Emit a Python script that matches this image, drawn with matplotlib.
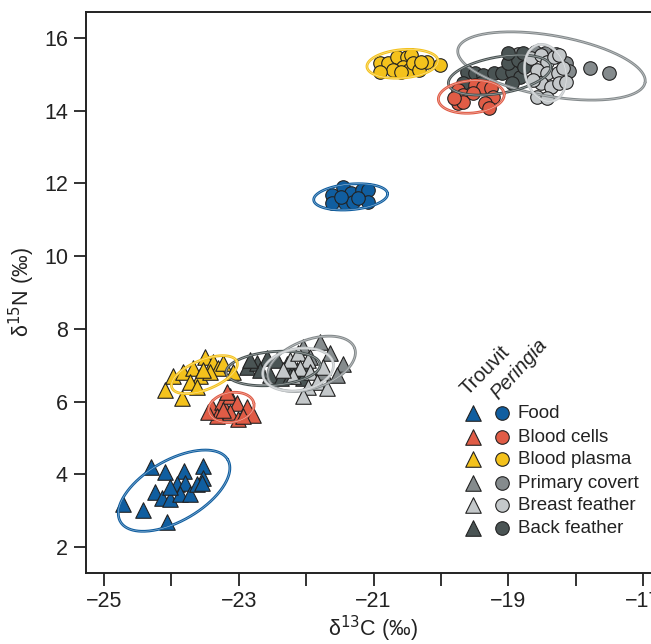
import numpy as np
import matplotlib
matplotlib.use("Agg")
import matplotlib.pyplot as plt

plt.rcParams['font.family'] = ['Liberation Sans', 'DejaVu Sans']

tissues = ["Food", "Blood cells", "Blood plasma", "Primary covert", "Breast feather", "Back feather"]
colors = ["#105ea0", "#e05c46", "#f4c21c", "#858b8d", "#c4c8ca", "#4a5454"]

# ---- Trouvit (triangles) ----
tr_food_x = [-24.30, -24.09, -23.81, -23.53, -23.53, -24.72, -24.42, -24.06, -24.24, -24.14,
             -24.02, -23.92, -23.80, -23.87, -23.72, -23.62, -23.54, -24.02]
tr_food_y = [4.21, 4.05, 4.08, 4.24, 3.91, 3.17, 3.03, 2.70, 3.50, 3.36,
             3.31, 3.72, 3.77, 3.45, 3.45, 3.72, 3.77, 3.66]
tr_cells_x = [-23.40, -23.25, -23.13, -23.02, -22.88, -22.79, -23.32, -23.13, -23.01, -23.23, -23.45, -22.93, -23.17]
tr_cells_y = [5.86, 6.00, 6.14, 5.97, 5.84, 5.64, 5.59, 5.70, 5.51, 5.78, 5.70, 5.59, 6.25]
tr_plasma_x = [-24.09, -23.84, -23.97, -23.83, -23.68, -23.50, -23.38, -23.31, -23.23, -23.57,
               -23.72, -23.42, -23.08, -23.62, -23.53]
tr_plasma_y = [6.33, 6.11, 6.69, 6.82, 6.93, 7.24, 7.10, 6.93, 7.07, 6.69,
               6.55, 6.80, 6.82, 6.41, 6.88]
tr_primary_x = [-21.79, -21.64, -21.46, -22.04, -21.75, -21.94, -21.54]
tr_primary_y = [7.65, 7.35, 7.02, 7.51, 6.80, 7.24, 6.74]
tr_breast_x = [-22.24, -22.12, -21.98, -22.09, -21.94, -22.19, -22.34, -21.75, -21.84, -21.98, -22.04, -21.69]
tr_breast_y = [7.15, 7.35, 7.15, 6.93, 6.80, 6.69, 6.88, 6.96, 6.55, 6.41, 6.14, 6.38]
tr_back_x = [-22.88, -22.73, -22.58, -22.43, -22.28, -22.13, -21.98, -22.53, -22.38, -22.68, -22.24, -22.04, -22.83]
tr_back_y = [6.96, 7.07, 7.21, 7.15, 7.02, 6.88, 6.93, 6.74, 6.66, 6.88, 6.69, 6.66, 7.15]

# ---- Peringia (circles) ----
pe_food_x = [-21.61, -21.46, -21.34, -21.17, -21.08, -21.61, -21.42, -21.30, -21.08, -21.49, -21.23]
pe_food_y = [11.69, 11.91, 11.74, 11.82, 11.82, 11.47, 11.47, 11.49, 11.49, 11.63, 11.60]
pe_cells_x = [-19.75, -19.67, -19.49, -19.37, -19.26, -19.23, -19.34, -19.75, -19.67, -19.52, -19.81, -19.29]
pe_cells_y = [14.57, 14.43, 14.71, 14.65, 14.63, 14.38, 14.21, 14.21, 14.24, 14.49, 14.35, 14.08]
pe_plasma_x = [-20.90, -20.78, -20.65, -20.50, -20.45, -20.56, -20.48, -20.41, -20.33, -20.20,
               -20.01, -20.71, -20.90, -20.60, -20.30]
pe_plasma_y = [15.31, 15.31, 15.48, 15.48, 15.53, 15.20, 15.12, 15.31, 15.12, 15.34,
               15.26, 15.12, 15.07, 15.07, 15.34]
pe_primary_x = [-18.85, -18.60, -18.30, -18.15, -18.90, -18.20, -18.70, -17.79, -17.51, -18.45, -18.10]
pe_primary_y = [15.55, 15.62, 15.55, 15.30, 15.35, 14.95, 15.40, 15.18, 15.04, 15.60, 15.10]
pe_breast_x = [-18.67, -18.52, -18.42, -18.33, -18.25, -18.57, -18.42, -18.27, -18.19, -18.52,
               -18.37, -18.25, -18.57, -18.42, -18.15, -18.63]
pe_breast_y = [15.45, 15.53, 15.34, 15.48, 15.53, 15.12, 15.04, 15.04, 15.18, 14.76,
               14.65, 14.76, 14.38, 14.35, 14.79, 14.85]
pe_back_x = [-19.61, -19.49, -19.37, -19.22, -19.09, -18.94, -19.01, -18.86, -19.00, -18.79,
             -18.82, -18.94, -19.67, -19.41, -18.77]
pe_back_y = [15.07, 15.04, 14.98, 15.04, 15.04, 15.07, 15.31, 15.40, 15.59, 15.59,
             14.93, 14.76, 14.76, 14.76, 15.20]

# ---- ellipses: centre (d13C, d15N), semi-axes (in d13C-scale units), angle (deg) ----
tr_ell_cx = [-23.96, -23.11, -23.51, -21.92, -22.12, -22.49]
tr_ell_cy = [3.55, 5.84, 6.74, 7.04, 6.88, 6.91]
tr_ell_a = [0.92, 0.34, 0.52, 0.68, 0.53, 0.70]
tr_ell_b = [0.45, 0.22, 0.22, 0.36, 0.31, 0.25]
tr_ell_ang = [30, 10, 22, 20, 10, 5]
pe_ell_cx = [-21.34, -19.55, -20.57, -18.36, -18.45, -19.13]
pe_ell_cy = [11.63, 14.38, 15.29, 15.23, 15.04, 14.98]
pe_ell_a = [0.55, 0.49, 0.53, 1.41, 0.43, 0.77]
pe_ell_b = [0.19, 0.24, 0.21, 0.45, 0.30, 0.27]
pe_ell_ang = [5, 5, 5, -10, 105, 10]

tr_x = [tr_food_x, tr_cells_x, tr_plasma_x, tr_primary_x, tr_breast_x, tr_back_x]
tr_y = [tr_food_y, tr_cells_y, tr_plasma_y, tr_primary_y, tr_breast_y, tr_back_y]
pe_x = [pe_food_x, pe_cells_x, pe_plasma_x, pe_primary_x, pe_breast_x, pe_back_x]
pe_y = [pe_food_y, pe_cells_y, pe_plasma_y, pe_primary_y, pe_breast_y, pe_back_y]

fig = plt.figure(figsize=(6.51, 6.44), dpi=100)
ax = fig.add_axes([0.1321, 0.1102, 0.8817, 0.8712])
ax.set_xlim(-25.267, -16.75)
ax.set_ylim(1.285, 16.715)

order = [3, 5, 4, 1, 2, 0]
for i in order:
    ax.scatter(tr_x[i], tr_y[i], marker='^', s=125, c=colors[i], edgecolors='#222222',
               linewidths=0.8, zorder=2)
for i in order:
    ax.scatter(pe_x[i], pe_y[i], marker='o', s=95, c=colors[i], edgecolors='#222222',
               linewidths=0.8, zorder=2)

# ellipse drawing in screen-isotropic space
p0 = ax.transData.transform((0, 0))
px_x = ax.transData.transform((1, 0))[0] - p0[0]
px_y = ax.transData.transform((0, 1))[1] - p0[1]
t = np.linspace(0, 2 * np.pi, 300)

def draw_ell(cx, cy, a, b, ang, col):
    phi = np.deg2rad(ang)
    X = a * np.cos(t) * np.cos(phi) - b * np.sin(t) * np.sin(phi)
    Y = a * np.cos(t) * np.sin(phi) + b * np.sin(t) * np.cos(phi)
    xs = cx + X
    ys = cy + Y * px_x / px_y
    ax.plot(xs, ys, color=col, lw=2.0, zorder=3, solid_capstyle='round')
    ax.plot(xs, ys, color='white', lw=0.4, alpha=0.6, zorder=3)

for i in order:
    draw_ell(tr_ell_cx[i], tr_ell_cy[i], tr_ell_a[i], tr_ell_b[i], tr_ell_ang[i], colors[i])
    draw_ell(pe_ell_cx[i], pe_ell_cy[i], pe_ell_a[i], pe_ell_b[i], pe_ell_ang[i], colors[i])

# axes styling
for sp in ['left', 'bottom', 'top', 'right']:
    ax.spines[sp].set_linewidth(1.4)
    ax.spines[sp].set_color('#222222')
ax.set_xticks([-25, -24, -23, -22, -21, -20, -19, -18, -17])
ax.set_xticklabels(['\u221225', '', '\u221223', '', '\u221221', '', '\u221219', '', '\u221217'])
ax.set_yticks([2, 4, 6, 8, 10, 12, 14, 16])
ax.tick_params(axis='both', direction='out', length=9, width=1.3, color='#222222',
               labelsize=15.5, labelcolor='#222222', pad=4)
ax.set_xlabel('\u03b4$^{13}$C (\u2030)', fontsize=15.5, color='#222222', labelpad=1)
ax.set_ylabel('\u03b4$^{15}$N (\u2030)', fontsize=15.5, color='#222222', labelpad=5)

# custom legend
def fx(px):
    return (px - 86) / 574.0

def fy(py):
    return (573 - py) / 561.0

rows = [413, 437, 459, 483, 505, 528]
for i, name in enumerate(tissues):
    ax.scatter([fx(473)], [fy(rows[i])], marker='^', s=125, c=colors[i], edgecolors='#222222',
               linewidths=0.8, transform=ax.transAxes, zorder=4, clip_on=False)
    ax.scatter([fx(502)], [fy(rows[i])], marker='o', s=95, c=colors[i], edgecolors='#222222',
               linewidths=0.8, transform=ax.transAxes, zorder=4, clip_on=False)
    ax.text(fx(518), fy(rows[i]), name, transform=ax.transAxes, fontsize=13.5,
            va='center', ha='left', color='#222222')
ax.text(fx(468), fy(396), 'Trouvit', transform=ax.transAxes, fontsize=14.5, rotation=45,
        rotation_mode='anchor', ha='left', va='baseline', color='#222222')
ax.text(fx(498), fy(400), 'Peringia', transform=ax.transAxes, fontsize=14.5, rotation=48,
        rotation_mode='anchor', ha='left', va='baseline', style='italic', color='#222222')

fig.savefig('out.png', dpi=100)
